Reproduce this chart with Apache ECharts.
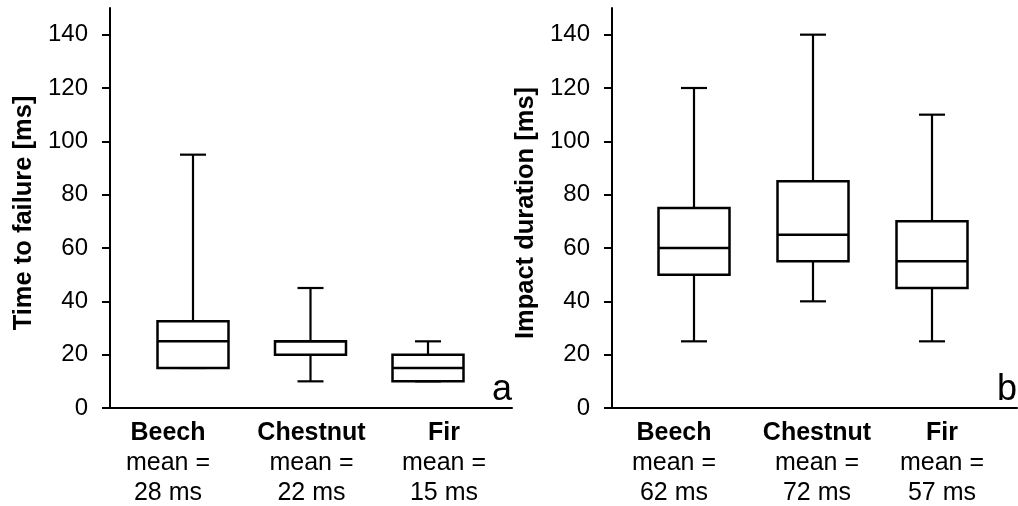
<!DOCTYPE html>
<html>
<head>
<meta charset="utf-8">
<script src="https://cdn.jsdelivr.net/npm/echarts@6/dist/echarts.min.js"></script>
<style>
html,body{margin:0;padding:0;background:#fff;}
#chart{width:1018px;height:506px;}
</style>
</head>
<body>
<div id="chart"></div>
<script>
// ---- data ----
const categories = ['Beech', 'Chestnut', 'Fir'];
const failureMeans = [28, 22, 15];
const impactMeans = [62, 72, 57];
// [min, Q1, median, Q3, max]
const failureStats = [
  [15, 15, 25, 32.5, 95],
  [10, 20, 25, 25, 45],
  [10, 10, 15, 20, 25]
];
const impactStats = [
  [25, 50, 60, 75, 120],
  [40, 55, 65, 85, 140],
  [25, 45, 55, 70, 110]
];
const yTicks = [0, 20, 40, 60, 80, 100, 120, 140];
const yMax = 150;
const failureName = 'Time to failure [ms]';
const impactName = 'Impact duration [ms]';
const panelLetters = ['a', 'b'];

// ---- layout / style ----
const FONT = 'Liberation Sans, Arial, Helvetica, sans-serif';
const INK = '#000';
// horizontal shift (px) of each category label relative to its box
const labelShiftLeft = [-25, 1, 16];
const labelShiftRight = [-20, 4, 10];

const chart = echarts.init(document.getElementById('chart'), null, {renderer: 'canvas'});

function catLabel(means) {
  return function (value, idx) {
    return '{b' + idx + '|' + value + '}\n{n' + idx + '|mean =}\n{n' + idx + '|' + means[idx] + ' ms}';
  };
}
function catRich(shifts) {
  const rich = {};
  shifts.forEach((d, i) => {
    const pad = d >= 0 ? [0, 0, 0, 2 * d] : [0, -2 * d, 0, 0];
    rich['b' + i] = {fontFamily: FONT, fontSize: 25, fontWeight: 'bold', color: INK, lineHeight: 30, align: 'center', padding: pad};
    rich['n' + i] = {fontFamily: FONT, fontSize: 25, color: INK, lineHeight: 30, align: 'center', padding: pad};
  });
  return rich;
}

function renderBox(params, api) {
  const idx = api.value(0);
  const mn = api.coord([idx, api.value(1)]);
  const q1 = api.coord([idx, api.value(2)]);
  const md = api.coord([idx, api.value(3)]);
  const q3 = api.coord([idx, api.value(4)]);
  const mx = api.coord([idx, api.value(5)]);
  const x = mn[0];
  const bw = 71, cw = 26;
  const st = {stroke: INK, lineWidth: 2.2, fill: null};
  return {
    type: 'group',
    children: [
      {type: 'line', shape: {x1: x, y1: q3[1], x2: x, y2: mx[1]}, style: st},
      {type: 'line', shape: {x1: x, y1: q1[1], x2: x, y2: mn[1]}, style: st},
      {type: 'line', shape: {x1: x - cw / 2, y1: mx[1], x2: x + cw / 2, y2: mx[1]}, style: st},
      {type: 'line', shape: {x1: x - cw / 2, y1: mn[1], x2: x + cw / 2, y2: mn[1]}, style: st},
      {type: 'rect', shape: {x: x - bw / 2, y: q3[1], width: bw, height: q1[1] - q3[1]}, style: {stroke: INK, lineWidth: 2.5, fill: '#fff'}},
      {type: 'line', shape: {x1: x - bw / 2, y1: md[1], x2: x + bw / 2, y2: md[1]}, style: {stroke: INK, lineWidth: 2.5}}
    ]
  };
}

const frameY = (name, gridIndex) => ({
  type: 'value', gridIndex: gridIndex, min: 0, max: yMax,
  name: name, nameLocation: 'middle', nameGap: 73,
  nameTextStyle: {fontFamily: FONT, fontSize: 25.5, fontWeight: 'bold', color: INK, padding: [0, 10, 0, 0]},
  axisLine: {show: true, lineStyle: {color: INK, width: 2}},
  axisTick: {show: true, inside: false, length: 8, lineStyle: {color: INK, width: 2}, customValues: yTicks},
  axisLabel: {show: true, margin: 22, fontFamily: FONT, fontSize: 24, color: INK, customValues: yTicks},
  splitLine: {show: false}
});
const frameX = (gridIndex) => ({
  type: 'value', gridIndex: gridIndex, min: 0, max: 1,
  axisLine: {show: true, lineStyle: {color: INK, width: 2}},
  axisTick: {show: false}, axisLabel: {show: false}, splitLine: {show: false}
});
const dataX = (gridIndex, means, shifts) => ({
  type: 'category', gridIndex: gridIndex, data: categories,
  axisLine: {show: false}, axisTick: {show: false},
  axisLabel: {show: true, interval: 0, margin: 10, formatter: catLabel(means), rich: catRich(shifts)}
});
const dataY = (gridIndex) => ({type: 'value', gridIndex: gridIndex, min: 0, max: yMax, show: false});

const toData = stats => stats.map((s, i) => [i].concat(s));

const option = {
  animation: false,
  backgroundColor: '#fff',
  grid: [
    {left: 110, top: 8, width: 402, height: 400},
    {left: 134.25, top: 8, width: 352.5, height: 400},
    {left: 612, top: 8, width: 405, height: 400},
    {left: 634.5, top: 8, width: 357, height: 400}
  ],
  xAxis: [frameX(0), dataX(1, failureMeans, labelShiftLeft), frameX(2), dataX(3, impactMeans, labelShiftRight)],
  yAxis: [frameY(failureName, 0), dataY(1), frameY(impactName, 2), dataY(3)],
  series: [
    {type: 'custom', xAxisIndex: 1, yAxisIndex: 1, renderItem: renderBox, data: toData(failureStats), encode: {x: 0, y: [1, 2, 3, 4, 5]}},
    {type: 'custom', xAxisIndex: 3, yAxisIndex: 3, renderItem: renderBox, data: toData(impactStats), encode: {x: 0, y: [1, 2, 3, 4, 5]}}
  ],
  graphic: [
    {type: 'text', x: 512, y: 408, style: {text: panelLetters[0], fontFamily: FONT, fontSize: 36, fill: INK, textAlign: 'right', textVerticalAlign: 'bottom'}},
    {type: 'text', x: 1017, y: 408, style: {text: panelLetters[1], fontFamily: FONT, fontSize: 36, fill: INK, textAlign: 'right', textVerticalAlign: 'bottom'}}
  ]
};
chart.setOption(option);
</script>
</body>
</html>
